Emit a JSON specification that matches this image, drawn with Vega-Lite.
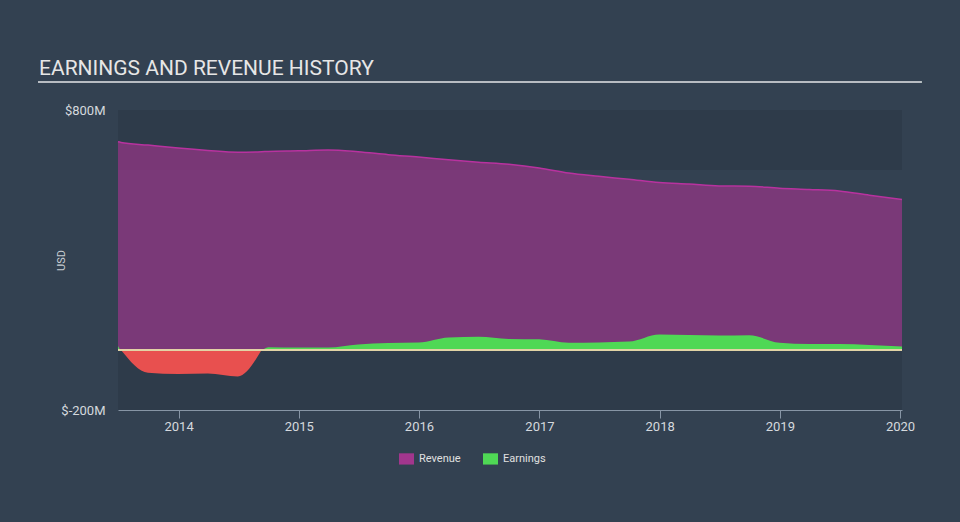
{
  "$schema": "https://vega.github.io/schema/vega-lite/v6.json",
  "width": 784,
  "height": 300,
  "autosize": {"type": "none"},
  "padding": {"left": 118, "top": 110, "right": 58, "bottom": 112},
  "background": "#334151",
  "config": {
    "view": {"stroke": null},
    "font": "Roboto"
  },
  "title": {
    "text": "EARNINGS AND REVENUE HISTORY",
    "anchor": "start",
    "frame": "group",
    "dx": -79,
    "dy": 41,
    "offset": 26,
    "baseline": "alphabetic",
    "fontSize": 21,
    "fontWeight": "normal",
    "color": "#e6e6e6",
    "font": "Roboto"
  },
  "data": {
    "values": [
      {"date": "2013-07-01", "revenue": 694, "earnings": 13},
      {"date": "2013-07-10", "revenue": 692, "earnings": 0},
      {"date": "2013-09-30", "revenue": 683, "earnings": -76},
      {"date": "2013-12-31", "revenue": 673, "earnings": -80},
      {"date": "2014-03-31", "revenue": 665, "earnings": -78},
      {"date": "2014-06-30", "revenue": 659, "earnings": -88},
      {"date": "2014-09-10", "revenue": 661, "earnings": 0},
      {"date": "2014-09-30", "revenue": 662, "earnings": 9},
      {"date": "2014-12-31", "revenue": 664, "earnings": 8},
      {"date": "2015-03-31", "revenue": 667, "earnings": 8},
      {"date": "2015-06-30", "revenue": 661, "earnings": 18},
      {"date": "2015-09-30", "revenue": 651, "earnings": 23},
      {"date": "2015-12-31", "revenue": 643, "earnings": 25},
      {"date": "2016-03-31", "revenue": 634, "earnings": 42},
      {"date": "2016-06-30", "revenue": 626, "earnings": 44},
      {"date": "2016-09-30", "revenue": 619, "earnings": 37},
      {"date": "2016-12-31", "revenue": 607, "earnings": 36},
      {"date": "2017-03-31", "revenue": 590, "earnings": 24},
      {"date": "2017-06-30", "revenue": 579, "earnings": 25},
      {"date": "2017-09-30", "revenue": 569, "earnings": 28},
      {"date": "2017-12-31", "revenue": 558, "earnings": 52},
      {"date": "2018-03-31", "revenue": 553, "earnings": 50},
      {"date": "2018-06-30", "revenue": 547, "earnings": 48},
      {"date": "2018-09-30", "revenue": 546, "earnings": 49},
      {"date": "2018-12-31", "revenue": 539, "earnings": 24},
      {"date": "2019-03-31", "revenue": 535, "earnings": 20},
      {"date": "2019-06-30", "revenue": 530, "earnings": 20},
      {"date": "2019-09-30", "revenue": 516, "earnings": 17},
      {"date": "2020-01-07", "revenue": 502, "earnings": 12}
    ]
  },
  "layer": [
    {
      "mark": {"type": "rect", "color": "#2e3b4a"},
      "encoding": {"y": {"datum": 600}, "y2": {"datum": 800}}
    },
    {
      "mark": {"type": "rect", "color": "#2e3b4a"},
      "encoding": {"y": {"datum": -200}, "y2": {"datum": 0}}
    },
    {
      "mark": {"type": "area", "interpolate": "monotone", "fillOpacity": 0.65},
      "encoding": {
        "x": {
          "field": "date",
          "type": "temporal",
          "scale": {"domain": [{"year": 2013, "month": 7, "date": 1}, {"year": 2020, "month": 1, "date": 7}]},
          "axis": {
            "title": null,
            "values": [{"year": 2014, "month": 1, "date": 1}, {"year": 2015, "month": 1, "date": 1}, {"year": 2016, "month": 1, "date": 1}, {"year": 2017, "month": 1, "date": 1}, {"year": 2018, "month": 1, "date": 1}, {"year": 2019, "month": 1, "date": 1}, {"year": 2020, "month": 1, "date": 1}],
            "format": "%Y",
            "grid": false,
            "domainColor": "#8795a5",
            "tickColor": "#8795a5",
            "tickSize": 8,
            "labelColor": "#d5d9de",
            "labelFontSize": 13,
            "labelPadding": 2,
            "labelFont": "Roboto"
          }
        },
        "y": {
          "field": "revenue",
          "type": "quantitative",
          "scale": {"domain": [-200, 800], "nice": false, "zero": false},
          "axis": {
            "values": [-200, 800],
            "labelExpr": "'$' + datum.value + 'M'",
            "ticks": false,
            "domain": false,
            "grid": false,
            "labelPadding": 13,
            "labelFontSize": 13,
            "labelColor": "#d5d9de",
            "labelFont": "Roboto",
            "title": "USD",
            "titleFont": "Roboto",
            "titleFontSize": 11,
            "titleFontWeight": "normal",
            "titleColor": "#c8cdd2",
            "titleX": -57,
            "titleY": 150,
            "titleBaseline": "middle"
          }
        },
        "y2": {"datum": 0},
        "color": {
          "datum": "Revenue",
          "scale": {"domain": ["Revenue", "Earnings"], "range": ["#a2368d", "#4fd855"]},
          "legend": {
            "title": null,
            "orient": "none",
            "legendX": 281,
            "legendY": 341,
            "direction": "horizontal",
            "symbolType": "M-1,-0.75L1,-0.75L1,0.75L-1,0.75Z",
            "symbolSize": 225,
            "symbolStrokeWidth": 0,
            "symbolOpacity": 1,
            "labelColor": "#e0e0e0",
            "labelFontSize": 11,
            "labelFont": "Roboto",
            "labelOffset": 5,
            "columnPadding": 22
          }
        }
      }
    },
    {
      "mark": {"type": "line", "interpolate": "monotone", "color": "#b8329f", "strokeWidth": 1.5},
      "encoding": {
        "x": {"field": "date", "type": "temporal"},
        "y": {"field": "revenue", "type": "quantitative"}
      }
    },
    {
      "transform": [{"filter": "datum.earnings >= 0"}],
      "mark": {"type": "area", "interpolate": "monotone", "fillOpacity": 1},
      "encoding": {
        "x": {"field": "date", "type": "temporal"},
        "y": {"field": "earnings", "type": "quantitative"},
        "y2": {"datum": 0},
        "color": {"datum": "Earnings"}
      }
    },
    {
      "transform": [{"filter": "datum.earnings <= 0"}],
      "mark": {"type": "area", "interpolate": "monotone", "color": "#e8504f"},
      "encoding": {
        "x": {"field": "date", "type": "temporal"},
        "y": {"field": "earnings", "type": "quantitative"},
        "y2": {"datum": 0}
      }
    },
    {
      "mark": {"type": "rule", "color": "#e2d3a6", "strokeWidth": 1},
      "encoding": {"y": {"datum": 0}}
    },
    {
      "mark": {"type": "rule", "color": "#b8bcc2", "strokeWidth": 2, "clip": false},
      "encoding": {
        "x": {"datum": {"year": 2012, "month": 11, "date": 1}},
        "x2": {"datum": {"year": 2020, "month": 3, "date": 5}},
        "y": {"datum": 893}
      }
    }
  ]
}
